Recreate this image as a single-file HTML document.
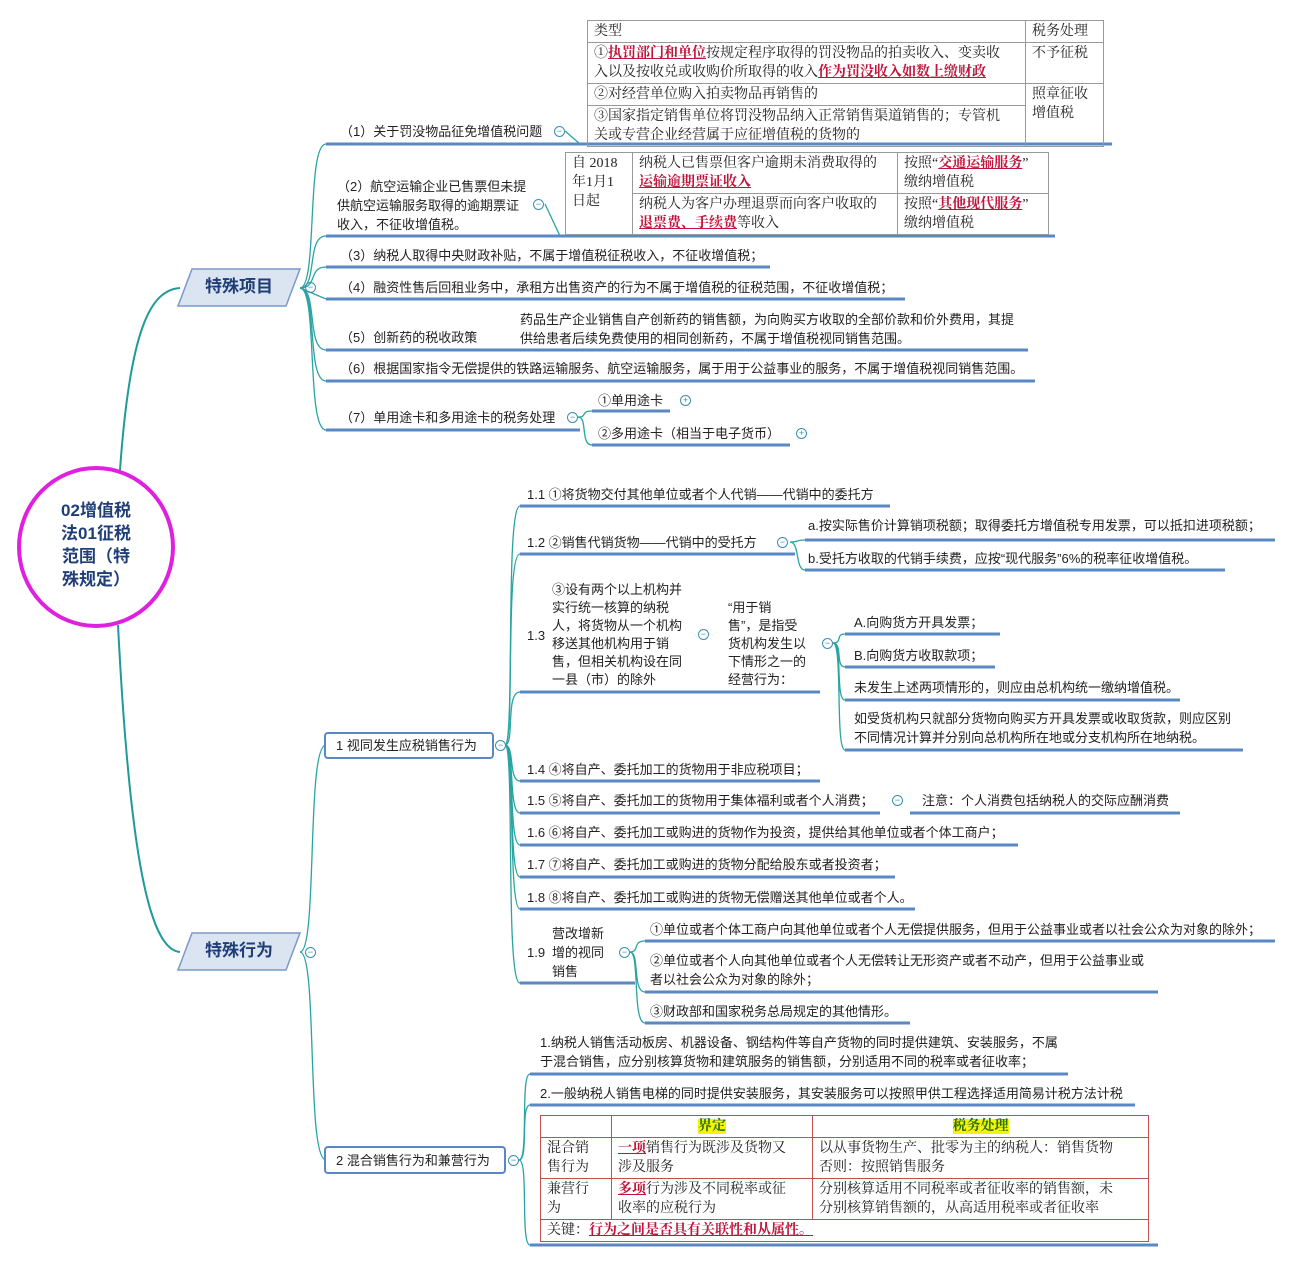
<!DOCTYPE html>
<html><head><meta charset="utf-8">
<style>
body{margin:0;background:#fff;}
#c{position:relative;width:1292px;height:1262px;overflow:hidden;font-family:"Liberation Sans","Noto Sans CJK SC",sans-serif;color:#222;}
.t{position:absolute;font-size:13px;line-height:19px;white-space:nowrap;}
.w{white-space:normal;}
.r{color:#c0143c;font-weight:bold;text-decoration:underline;}
.m{position:absolute;width:9px;height:9px;border:1px solid #3a8fb0;border-radius:50%;font-size:9px;line-height:9px;text-align:center;color:#3a8fb0;}
table{position:absolute;border-collapse:collapse;font-family:"Liberation Serif","Noto Serif CJK SC","Noto Sans CJK SC",serif;font-size:14px;line-height:19px;}
td{vertical-align:top;padding:1px 6px;white-space:nowrap;}
.g td{border:1px solid #999;}
.rd td{border:1px solid #c0504d;}
</style></head><body><div id="c">
<svg width="1292" height="1262" style="position:absolute;left:0;top:0">
<g fill="none" stroke="#1f9a9a" stroke-width="2">
<path d="M120 470 C130 330,150 290,180 288"/>
<path d="M118 625 C130 860,150 950,180 952"/>
</g>
<g fill="none" stroke="#2aa3a3" stroke-width="1.3">
<path d="M300 288 C318 288,306 144,326 144"/><path d="M300 288 C318 288,306 236,326 236"/>
<path d="M300 288 C318 288,308 267,326 267"/><path d="M300 288 L326 299"/>
<path d="M300 288 C318 288,306 350,326 350"/><path d="M300 288 C318 288,306 381,326 381"/>
<path d="M300 288 C318 288,306 430,326 430"/>
<path d="M565 131 L580 144"/><path d="M545 204 L560 236"/>
<path d="M578 417 C588 417,580 411,592 411"/><path d="M578 417 C588 417,580 445,592 445"/>
<path d="M300 952 C318 952,306 745,326 745"/><path d="M300 952 C318 952,306 1160,326 1160"/>
<path d="M505 745 C515 745,505 506,520 506"/><path d="M505 745 C515 745,505 554,520 554"/>
<path d="M505 745 C515 745,505 692,520 692"/><path d="M505 745 C515 745,508 781,520 781"/>
<path d="M505 745 C515 745,508 813,520 813"/><path d="M505 745 C515 745,508 845,520 845"/>
<path d="M505 745 C515 745,508 877,520 877"/><path d="M505 745 C515 745,508 909,520 909"/>
<path d="M505 745 C515 745,505 983,520 983"/>
<path d="M790 542 C800 542,795 540,805 540"/><path d="M790 542 C800 542,795 570,805 570"/>
<path d="M833 643 C843 643,835 634,845 634"/><path d="M833 643 C843 643,835 667,845 667"/>
<path d="M833 643 C843 643,835 700,845 700"/><path d="M833 643 C843 643,835 750,845 750"/>
<path d="M630 952 C640 952,632 941,645 941"/><path d="M630 952 C640 952,632 992,645 992"/>
<path d="M630 952 C640 952,632 1023,645 1023"/>
<path d="M519 1160 C529 1160,520 1074,530 1074"/><path d="M519 1160 C529 1160,520 1105,530 1105"/>
<path d="M519 1160 C529 1160,520 1245,530 1245"/>
</g>
<g stroke="#5b87c5" stroke-width="3">
<line x1="326" y1="144" x2="1112" y2="144"/><line x1="326" y1="236" x2="1055" y2="236"/>
<line x1="326" y1="267" x2="770" y2="267"/><line x1="326" y1="299" x2="905" y2="299"/>
<line x1="326" y1="350" x2="1028" y2="350"/><line x1="326" y1="381" x2="1035" y2="381"/>
<line x1="326" y1="430" x2="580" y2="430"/><line x1="592" y1="411" x2="670" y2="411"/>
<line x1="592" y1="445" x2="790" y2="445"/>
<line x1="520" y1="506" x2="890" y2="506"/><line x1="520" y1="554" x2="795" y2="554"/>
<line x1="805" y1="540" x2="1275" y2="540"/><line x1="805" y1="570" x2="1225" y2="570"/>
<line x1="520" y1="692" x2="820" y2="692"/>
<line x1="845" y1="634" x2="1000" y2="634"/><line x1="845" y1="667" x2="995" y2="667"/>
<line x1="845" y1="700" x2="1180" y2="700"/><line x1="845" y1="750" x2="1243" y2="750"/>
<line x1="520" y1="781" x2="820" y2="781"/><line x1="520" y1="813" x2="880" y2="813"/>
<line x1="910" y1="813" x2="1180" y2="813"/><line x1="520" y1="845" x2="1018" y2="845"/>
<line x1="520" y1="877" x2="895" y2="877"/><line x1="520" y1="909" x2="915" y2="909"/>
<line x1="520" y1="983" x2="635" y2="983"/>
<line x1="645" y1="941" x2="1275" y2="941"/><line x1="645" y1="992" x2="1158" y2="992"/>
<line x1="645" y1="1023" x2="910" y2="1023"/>
<line x1="530" y1="1074" x2="1068" y2="1074"/><line x1="530" y1="1105" x2="1135" y2="1105"/>
<line x1="530" y1="1245" x2="1158" y2="1245"/>
</g>
<ellipse cx="96" cy="547" rx="77" ry="79" fill="#fff" stroke="#e020e0" stroke-width="4"/>
<polygon points="192,269 300,269 286,306 178,306" fill="#dbe5f1" stroke="#7b98c8" stroke-width="1.5"/>
<polygon points="192,933 300,933 286,970 178,970" fill="#dbe5f1" stroke="#7b98c8" stroke-width="1.5"/>
<rect x="325" y="733" width="168" height="25" rx="3" fill="#fff" stroke="#5b87c5" stroke-width="2"/>
<rect x="325" y="1147" width="180" height="26" rx="3" fill="#fff" stroke="#5b87c5" stroke-width="2"/>
</svg>
<div class="t" style="left:56px;top:499px;width:80px;white-space:normal;text-align:center;font-size:17px;line-height:23px;font-weight:bold;color:#1f3e78">02增值税<br>法01征税<br>范围（特<br>殊规定）</div>
<div class="t" style="left:205px;top:277px;font-size:17px;font-weight:bold;color:#1f3e78">特殊项目</div>
<div class="t" style="left:205px;top:941px;font-size:17px;font-weight:bold;color:#1f3e78">特殊行为</div>

<div class="t" style="left:340px;top:122px">（1）关于罚没物品征免增值税问题</div><div class="m" style="left:554px;top:126px">−</div>
<table class="g" style="left:587px;top:20px;width:517px">
<tr><td style="width:425px;height:18px">类型</td><td>税务处理</td></tr>
<tr><td style="height:38px">①<span class="r">执罚部门和单位</span>按规定程序取得的罚没物品的拍卖收入、变卖收<br>入以及按收兑或收购价所取得的收入<span class="r">作为罚没收入如数上缴财政</span></td><td>不予征税</td></tr>
<tr><td>②对经营单位购入拍卖物品再销售的</td><td rowspan="2">照章征收<br>增值税</td></tr>
<tr><td style="height:38px">③国家指定销售单位将罚没物品纳入正常销售渠道销售的；专管机<br>关或专营企业经营属于应征增值税的货物的</td></tr>
</table>
<div class="t w" style="left:337px;top:177px;width:190px;line-height:19px">（2）航空运输企业已售票但未提供航空运输服务取得的逾期票证收入，不征收增值税。</div><div class="m" style="left:533px;top:199px">−</div>
<table class="g" style="left:565px;top:152px;width:484px">
<tr><td rowspan="2" style="width:54px;border-left:1px solid #999">自 2018<br>年1月1<br>日起</td><td style="width:252px;height:38px">纳税人已售票但客户逾期未消费取得的<br><span class="r">运输逾期票证收入</span></td><td>按照“<span class="r">交通运输服务</span>”<br>缴纳增值税</td></tr>
<tr><td style="height:38px">纳税人为客户办理退票而向客户收取的<br><span class="r">退票费、手续费</span>等收入</td><td>按照“<span class="r">其他现代服务</span>”<br>缴纳增值税</td></tr>
</table>
<div class="t" style="left:340px;top:246px">（3）纳税人取得中央财政补贴，不属于增值税征税收入，不征收增值税；</div>
<div class="m" style="left:305px;top:282px">−</div>
<div class="t" style="left:340px;top:278px">（4）融资性售后回租业务中，承租方出售资产的行为不属于增值税的征税范围，不征收增值税；</div>
<div class="t" style="left:340px;top:328px">（5）创新药的税收政策</div>
<div class="t" style="left:520px;top:310px">药品生产企业销售自产创新药的销售额，为向购买方收取的全部价款和价外费用，其提<br>供给患者后续免费使用的相同创新药，不属于增值税视同销售范围。</div>
<div class="t" style="left:340px;top:359px">（6）根据国家指令无偿提供的铁路运输服务、航空运输服务，属于用于公益事业的服务，不属于增值税视同销售范围。</div>
<div class="t" style="left:340px;top:408px">（7）单用途卡和多用途卡的税务处理</div><div class="m" style="left:567px;top:412px">−</div>
<div class="t" style="left:598px;top:391px">①单用途卡</div><div class="m" style="left:680px;top:395px">+</div>
<div class="t" style="left:598px;top:424px">②多用途卡（相当于电子货币）</div><div class="m" style="left:796px;top:428px">+</div>

<div class="t" style="left:336px;top:736px">1 视同发生应税销售行为</div><div class="m" style="left:495px;top:740px">−</div>
<div class="t" style="left:336px;top:1151px">2 混合销售行为和兼营行为</div><div class="m" style="left:508px;top:1155px">−</div>
<div class="m" style="left:305px;top:947px">−</div>

<div class="t" style="left:527px;top:485px">1.1 ①将货物交付其他单位或者个人代销——代销中的委托方</div>
<div class="t" style="left:527px;top:533px">1.2 ②销售代销货物——代销中的受托方</div><div class="m" style="left:777px;top:537px">−</div>
<div class="t" style="left:808px;top:516px">a.按实际售价计算销项税额；取得委托方增值税专用发票，可以抵扣进项税额；</div>
<div class="t" style="left:808px;top:549px">b.受托方收取的代销手续费，应按“现代服务”6%的税率征收增值税。</div>
<div class="t" style="left:527px;top:626px">1.3</div>
<div class="t w" style="left:552px;top:581px;width:134px;line-height:18px">③设有两个以上机构并实行统一核算的纳税人，将货物从一个机构移送其他机构用于销售，但相关机构设在同一县（市）的除外</div>
<div class="m" style="left:698px;top:629px">−</div>
<div class="t w" style="left:728px;top:599px;width:86px;line-height:18px">“用于销<br>售”，是指受<br>货机构发生以<br>下情形之一的<br>经营行为：</div>
<div class="m" style="left:822px;top:638px">−</div>
<div class="t" style="left:854px;top:613px">A.向购货方开具发票；</div>
<div class="t" style="left:854px;top:646px">B.向购货方收取款项；</div>
<div class="t" style="left:854px;top:678px">未发生上述两项情形的，则应由总机构统一缴纳增值税。</div>
<div class="t" style="left:854px;top:709px">如受货机构只就部分货物向购买方开具发票或收取货款，则应区别<br>不同情况计算并分别向总机构所在地或分支机构所在地纳税。</div>
<div class="t" style="left:527px;top:760px">1.4 ④将自产、委托加工的货物用于非应税项目；</div>
<div class="t" style="left:527px;top:791px">1.5 ⑤将自产、委托加工的货物用于集体福利或者个人消费；</div><div class="m" style="left:892px;top:795px">−</div>
<div class="t" style="left:922px;top:791px">注意：个人消费包括纳税人的交际应酬消费</div>
<div class="t" style="left:527px;top:823px">1.6 ⑥将自产、委托加工或购进的货物作为投资，提供给其他单位或者个体工商户；</div>
<div class="t" style="left:527px;top:855px">1.7 ⑦将自产、委托加工或购进的货物分配给股东或者投资者；</div>
<div class="t" style="left:527px;top:888px">1.8 ⑧将自产、委托加工或购进的货物无偿赠送其他单位或者个人。</div>
<div class="t" style="left:527px;top:943px">1.9</div>
<div class="t w" style="left:552px;top:924px;width:58px;line-height:19px">营改增新增的视同销售</div>
<div class="m" style="left:619px;top:947px">−</div>
<div class="t" style="left:650px;top:920px">①单位或者个体工商户向其他单位或者个人无偿提供服务，但用于公益事业或者以社会公众为对象的除外；</div>
<div class="t" style="left:650px;top:951px">②单位或者个人向其他单位或者个人无偿转让无形资产或者不动产，但用于公益事业或<br>者以社会公众为对象的除外；</div>
<div class="t" style="left:650px;top:1002px">③财政部和国家税务总局规定的其他情形。</div>

<div class="t" style="left:540px;top:1033px">1.纳税人销售活动板房、机器设备、钢结构件等自产货物的同时提供建筑、安装服务，不属<br>于混合销售，应分别核算货物和建筑服务的销售额，分别适用不同的税率或者征收率；</div>
<div class="t" style="left:540px;top:1084px">2.一般纳税人销售电梯的同时提供安装服务，其安装服务可以按照甲供工程选择适用简易计税方法计税</div>
<table class="rd" style="left:540px;top:1115px;width:609px">
<tr><td style="width:58px;height:19px"></td><td style="width:188px;text-align:center"><b style="background:#f5f500;color:#2a6e1a">界定</b></td><td style="text-align:center"><b style="background:#f5f500;color:#2a6e1a">税务处理</b></td></tr>
<tr><td style="height:38px">混合销<br>售行为</td><td><span class="r">一项</span>销售行为既涉及货物又<br>涉及服务</td><td>以从事货物生产、批零为主的纳税人：销售货物<br>否则：按照销售服务</td></tr>
<tr><td style="height:38px">兼营行<br>为</td><td><span class="r">多项</span>行为涉及不同税率或征<br>收率的应税行为</td><td>分别核算适用不同税率或者征收率的销售额，未<br>分别核算销售额的，从高适用税率或者征收率</td></tr>
<tr><td colspan="3">关键：<span class="r">行为之间是否具有关联性和从属性。</span></td></tr>
</table>
</div></body></html>
